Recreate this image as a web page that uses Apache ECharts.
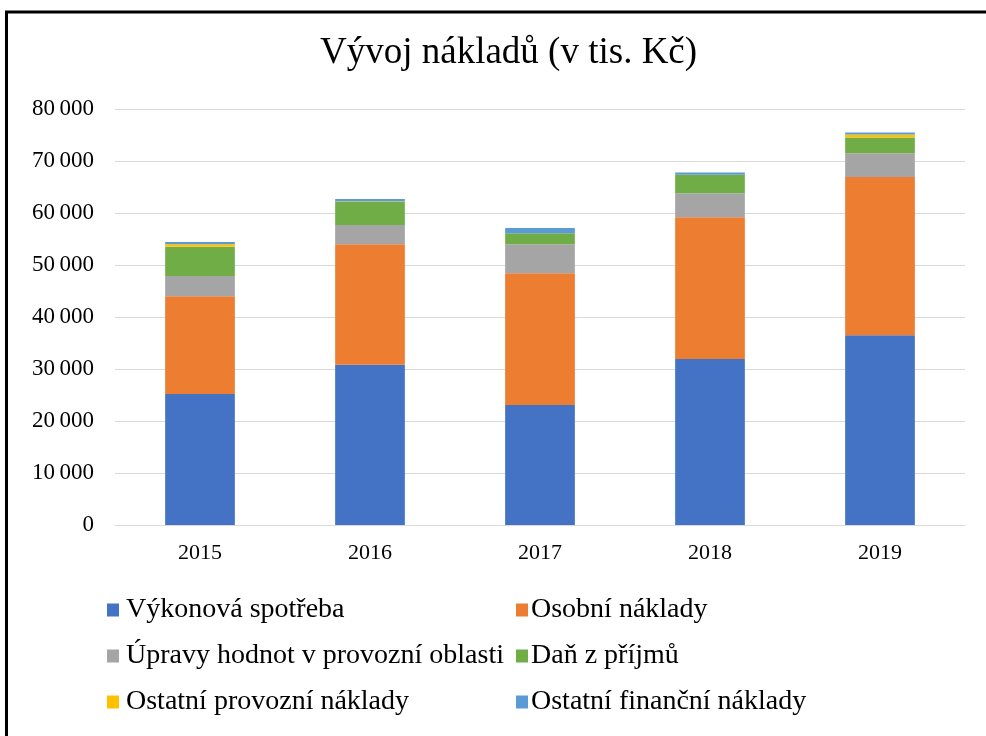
<!DOCTYPE html>
<html>
<head>
<meta charset="utf-8">
<script src="https://cdn.jsdelivr.net/npm/echarts@6/dist/echarts.min.js"></script>
<style>
  html, body { margin: 0; padding: 0; background: #fff; }
  #chart { width: 986px; height: 736px; }
</style>
</head>
<body>
<div id="chart"></div>
<script>
const years = ['2015', '2016', '2017', '2018', '2019']

const seriesNames = [
  'Výkonová spotřeba',
  'Osobní náklady',
  'Úpravy hodnot v provozní oblasti',
  'Daň z příjmů',
  'Ostatní provozní náklady',
  'Ostatní finanční náklady',
]
const seriesColors = ['#4472c4', '#ed7d31', '#a5a5a5', '#70ad47', '#ffc000', '#5b9bd5']

const vykonovaSpotreba = [25200, 30800, 23100, 31900, 36500]
const osobniNaklady = [18800, 23200, 25300, 27300, 30400]
const upravyHodnot = [3900, 3700, 5600, 4600, 4600]
const danZPrijmu = [5600, 4500, 2100, 3500, 3000]
const ostatniProvozni = [500, 50, 0, 50, 600]
const ostatniFinancni = [400, 450, 1000, 450, 400]

const seriesValues = [vykonovaSpotreba, osobniNaklady, upravyHodnot, danZPrijmu, ostatniProvozni, ostatniFinancni]

const font = 'Liberation Serif'

const chart = echarts.init(document.getElementById('chart'))

function legendBlock(names, left, gap) {
  return {
    data: names,
    orient: 'vertical',
    left,
    top: 591,
    itemGap: 18,
    itemWidth: 12,
    itemHeight: 13,
    icon: 'rect',
    selectedMode: false,
    textStyle: { fontFamily: font, fontSize: 28, color: '#000', padding: [0, 0, 0, gap] },
  }
}

chart.setOption({
  backgroundColor: '#fff',
  animation: false,
  title: {
    text: 'Vývoj nákladů (v tis. Kč)',
    left: 315,
    top: 30,
    textStyle: { fontFamily: font, fontSize: 37, fontWeight: 'normal', color: '#000' },
  },
  legend: [
    legendBlock([seriesNames[0], seriesNames[2], seriesNames[4]], 102, 2),
    legendBlock([seriesNames[1], seriesNames[3], seriesNames[5]], 511, -2),
  ],
  grid: { left: 115, right: 21, top: 109, bottom: 211 },
  xAxis: {
    type: 'category',
    data: years,
    axisTick: { show: false },
    axisLine: { lineStyle: { color: '#d9d9d9', width: 1 } },
    axisLabel: { fontFamily: font, fontSize: 22, color: '#000', margin: 17 },
  },
  yAxis: {
    type: 'value',
    min: 0,
    max: 80000,
    interval: 10000,
    axisLine: { show: false },
    axisTick: { show: false },
    splitLine: { lineStyle: { color: '#d9d9d9', width: 1 } },
    axisLabel: {
      fontFamily: font,
      fontSize: 23,
      color: '#000',
      margin: 21,
      formatter: (v) => String(v).replace(/\B(?=(\d{3})+(?!\d))/g, '\u2009'),
    },
  },
  series: seriesNames.map((name, i) => ({
    name,
    type: 'bar',
    stack: 'total',
    barWidth: '41%',
    data: seriesValues[i],
    itemStyle: { color: seriesColors[i] },
  })),
  graphic: [
    {
      type: 'rect',
      shape: { x: 6.5, y: 12, width: 1100, height: 900 },
      style: { fill: 'none', stroke: '#000', lineWidth: 3 },
      silent: true,
    },
  ],
})
</script>
</body>
</html>
